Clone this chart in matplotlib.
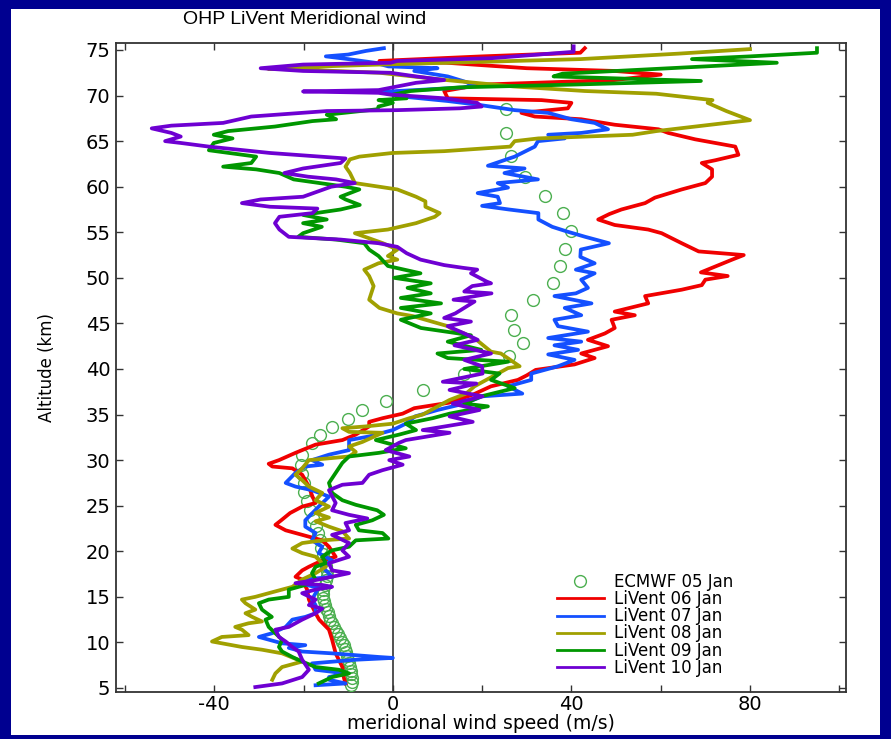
import matplotlib
matplotlib.use("Agg")
import matplotlib.pyplot as plt
from matplotlib.patches import Rectangle
from matplotlib.ticker import MultipleLocator

plt.rcParams["axes.unicode_minus"] = False

# ECMWF 05 Jan profile: (altitude km, meridional wind m/s)
ecmwf_05 = [(5.3, -9.3), (5.7, -9.2), (6.1, -9.2), (6.5, -9.3), (6.9, -9.4), (7.3, -9.6),
            (7.7, -9.8), (8.1, -10.0), (8.5, -10.2), (8.9, -10.4), (9.3, -10.7), (9.7, -11.0),
            (10.1, -11.4), (10.5, -11.8), (10.9, -12.3), (11.3, -12.8), (11.7, -13.2),
            (12.1, -13.6), (12.5, -14.0), (12.9, -14.3), (13.3, -14.6), (13.7, -14.9),
            (14.1, -15.2), (14.5, -15.4), (14.9, -15.6), (15.3, -15.7), (15.8, -15.6),
            (16.3, -15.3), (16.8, -15.0), (17.3, -14.8), (17.8, -14.8), (18.4, -15.0),
            (19.0, -15.3), (19.7, -15.7), (20.4, -16.0), (21.2, -16.4), (22.0, -16.8),
            (22.8, -17.3), (23.6, -17.9), (24.5, -18.6), (25.5, -19.3), (26.5, -19.8),
            (27.5, -20.0), (28.5, -20.3), (29.5, -20.5), (30.6, -20.3), (31.9, -18.0),
            (32.8, -16.2), (33.6, -13.6), (34.5, -10.0), (35.5, -6.8), (36.5, -1.5),
            (37.7, 6.7), (39.5, 16.0), (41.4, 26.1), (42.8, 29.1), (44.3, 27.1), (45.9, 26.5),
            (47.6, 31.5), (49.4, 35.9), (51.3, 37.4), (53.2, 38.5), (55.1, 40.0), (57.1, 38.2),
            (59.0, 34.0), (61.1, 29.5), (63.4, 26.5), (65.9, 25.4), (68.5, 25.4)]

livent_06 = [(5.5, -10.6), (6.2, -11.0), (7.3, -11.3), (8.8, -12.8), (10.3, -13.6), (11.4, -14.3),
             (12.5, -16.5), (13.2, -17.3), (14.7, -18.8), (15.8, -19.2), (16.9, -20.3), (17.2, -21.8),
             (17.9, -20.3), (18.3, -18.8), (19.0, -15.8), (19.4, -12.8), (20.5, -14.3), (21.2, -15.8),
             (22.3, -24.0), (22.9, -26.3), (23.4, -25.0), (24.2, -23.0), (24.9, -20.3), (25.3, -17.3),
             (26.0, -18.0), (27.1, -18.8), (28.4, -20.3), (29.1, -22.5), (29.3, -27.0), (29.6, -27.8),
             (30.0, -25.5), (30.8, -21.8), (31.7, -17.3), (32.2, -11.3), (32.8, -8.3), (33.7, -5.3),
             (34.2, -5.3), (34.6, -2.3), (35.1, 2.2), (35.7, 4.8), (36.3, 12.6), (37.2, 18.0),
             (38.1, 22.0), (38.8, 28.0), (39.3, 30.0), (39.9, 32.0), (40.5, 40.7), (41.2, 45.2),
             (41.7, 42.2), (42.5, 48.2), (43.2, 43.7), (43.9, 47.5), (44.5, 49.7), (45.4, 49.0),
             (45.9, 54.2), (46.3, 49.7), (47.2, 57.2), (48.0, 56.5), (48.7, 64.7), (49.2, 69.2),
             (49.8, 70.0), (50.2, 75.0), (50.6, 69.0), (51.2, 72.0), (52.0, 76.0), (52.5, 78.6),
             (52.9, 68.5), (53.8, 64.7), (54.9, 60.2), (55.3, 57.2), (55.8, 49.7), (56.4, 46.0),
             (57.0, 48.5), (57.5, 51.2), (58.2, 56.5), (58.8, 58.7), (59.7, 64.7), (60.4, 70.0),
             (61.1, 71.5), (61.9, 71.5), (62.6, 69.2), (62.9, 72.2), (63.5, 77.4), (64.4, 76.7),
             (65.2, 67.7), (65.9, 61.7), (66.3, 59.5), (66.8, 49.7), (67.4, 42.2), (67.7, 31.8),
             (68.1, 28.8), (68.6, 39.2), (69.2, 40.0), (69.5, 33.3), (69.7, 12.3), (70.5, 11.5),
             (71.2, 19.8), (71.7, 49.7), (72.3, 60.0), (72.7, 49.7), (73.0, 30.0), (73.6, 12.0),
             (73.8, -3.0), (74.3, 20.0), (74.7, 42.0), (75.2, 43.0)]

livent_07 = [(5.3, -17.3), (5.5, -10.6), (5.9, -14.3), (6.2, -14.3), (6.6, -10.6), (7.0, -17.3),
             (7.7, -18.1), (8.1, -8.3), (8.3, 0.0), (8.4, -3.1), (8.8, -13.6), (9.0, -20.3),
             (9.4, -23.3), (9.7, -19.6), (9.9, -24.8), (10.6, -30.0), (11.0, -27.1), (11.7, -24.0),
             (12.5, -22.5), (12.8, -19.6), (13.2, -17.3), (14.1, -17.3), (14.7, -18.1), (15.4, -17.3),
             (16.0, -16.6), (16.4, -20.3), (16.9, -19.6), (17.2, -13.6), (18.3, -15.8), (19.0, -13.6),
             (19.8, -16.6), (20.5, -15.8), (21.2, -18.1), (22.0, -17.3), (22.7, -19.6), (23.4, -19.6),
             (24.2, -18.0), (24.9, -16.6), (26.0, -14.3), (26.7, -18.1), (27.1, -21.8), (27.5, -24.0),
             (28.6, -21.8), (29.3, -19.6), (29.5, -15.8), (30.0, -18.1), (30.6, -14.3), (31.1, -9.8),
             (32.2, -9.8), (32.6, -5.3), (33.3, 0.0), (34.0, 2.9), (34.8, 5.0), (35.5, 10.0),
             (36.2, 16.0), (37.0, 20.0), (37.3, 29.0), (38.1, 25.8), (38.8, 31.0), (39.5, 31.0),
             (40.3, 37.0), (41.0, 40.7), (41.6, 34.8), (42.1, 41.5), (42.6, 36.2), (43.0, 42.2),
             (43.4, 34.8), (44.1, 43.7), (44.7, 37.0), (45.4, 36.2), (45.9, 42.2), (46.7, 38.5),
             (47.2, 44.5), (48.0, 36.2), (48.3, 41.0), (48.9, 43.7), (49.8, 42.2), (50.5, 45.2),
             (50.9, 41.0), (51.6, 45.2), (52.3, 42.0), (53.1, 42.1), (53.8, 48.4), (54.5, 43.1),
             (55.1, 38.9), (55.6, 35.7), (56.4, 32.6), (57.1, 32.6), (57.5, 26.0), (57.9, 20.0),
             (58.2, 24.0), (58.9, 23.5), (59.3, 19.0), (59.9, 25.8), (60.4, 23.5), (60.8, 32.5),
             (61.5, 25.0), (62.0, 29.5), (62.3, 21.3), (63.3, 27.3), (64.4, 31.8), (65.0, 32.5),
             (65.3, 38.5), (65.7, 34.8), (65.9, 42.2), (66.3, 48.2), (67.0, 45.2), (67.4, 40.0),
             (68.1, 34.8), (68.4, 27.3), (69.0, 19.0), (69.4, 12.3), (69.9, 2.0), (70.4, -3.0),
             (70.6, 5.0), (70.9, 16.0), (71.2, 18.3), (72.1, 12.3), (72.7, 4.8), (73.0, 10.0),
             (73.2, -1.0), (73.6, -4.0), (74.0, -10.0), (74.3, -15.0), (74.5, -10.0), (74.9, -6.0),
             (75.2, -2.0)]

livent_08 = [(5.9, -27.0), (6.6, -26.3), (7.3, -24.8), (7.7, -21.8), (7.9, -20.3), (8.8, -24.8),
             (9.2, -29.3), (9.5, -33.8), (10.1, -40.5), (10.6, -38.3), (10.8, -32.3), (11.4, -33.8),
             (11.7, -35.3), (12.1, -32.3), (12.3, -29.3), (12.8, -31.5), (13.2, -33.0), (13.6, -30.8),
             (14.3, -33.0), (14.7, -33.8), (15.0, -30.8), (15.6, -26.3), (16.1, -22.5), (16.9, -20.3),
             (17.6, -17.3), (18.3, -15.0), (19.4, -17.3), (19.8, -20.3), (20.3, -22.5), (20.9, -20.3),
             (21.2, -15.8), (21.4, -9.8), (22.2, -11.3), (22.7, -14.3), (23.3, -17.3), (23.7, -14.3),
             (24.2, -17.3), (24.9, -14.3), (25.6, -17.3), (26.4, -15.8), (27.1, -18.8), (27.8, -20.3),
             (28.4, -21.8), (29.1, -20.3), (30.0, -18.8), (30.4, -9.8), (30.9, -8.3), (31.5, -9.8),
             (32.0, -6.8), (33.0, -2.3), (33.1, -9.8), (33.5, -11.3), (33.7, -6.1), (34.0, 0.0),
             (34.6, 3.7), (35.0, 6.7), (36.6, 12.7), (37.3, 16.4), (38.1, 18.3), (40.1, 25.8),
             (40.3, 28.4), (41.7, 24.2), (41.9, 22.0), (43.1, 19.0), (43.9, 16.0), (44.3, 13.6),
             (44.7, 12.3), (45.8, 4.5), (46.1, 1.0), (46.7, -3.0), (47.6, -5.3), (49.1, -4.3),
             (50.2, -5.3), (50.9, -6.4), (51.6, -3.2), (52.0, 1.0), (52.4, -1.1), (53.1, 1.0),
             (53.8, -2.2), (54.9, -8.5), (55.3, -1.1), (56.0, 5.2), (56.7, 9.4), (57.1, 10.5),
             (57.8, 7.3), (58.4, 7.3), (58.9, 5.2), (59.7, 1.0), (60.4, -8.5), (61.5, -9.6),
             (62.2, -10.6), (63.0, -9.6), (63.3, -7.5), (63.7, -0.1), (63.9, 11.5), (64.4, 26.3),
             (65.0, 27.3), (65.3, 32.6), (65.7, 53.7), (66.1, 59.0), (67.0, 74.7), (67.3, 80.0),
             (68.3, 74.7), (69.2, 70.5), (69.5, 71.6), (70.2, 59.0), (70.5, 43.0), (71.0, 27.0),
             (71.7, 12.0), (72.5, -3.0), (72.8, -18.0), (72.95, -28.0), (73.1, -22.0), (73.4, -3.0),
             (73.7, 20.0), (74.0, 42.0), (74.6, 64.0), (75.1, 80.0)]

livent_09 = [(5.5, -16.6), (6.2, -13.6), (6.6, -9.8), (7.0, -12.1), (7.3, -17.3), (7.9, -20.3),
             (8.4, -22.5), (9.0, -24.8), (9.5, -25.5), (10.3, -24.8), (11.0, -26.3), (11.7, -27.8),
             (12.5, -28.5), (12.8, -27.1), (13.6, -29.3), (14.3, -30.0), (14.7, -27.8), (15.0, -23.3),
             (15.8, -23.3), (16.3, -19.6), (16.9, -17.3), (17.6, -18.1), (18.3, -17.3), (18.7, -15.0),
             (19.4, -15.8), (20.1, -13.6), (20.5, -9.8), (21.2, -8.3), (21.4, -1.0), (22.0, -2.3),
             (22.3, -7.6), (22.9, -8.3), (23.4, -4.6), (24.0, -2.0), (24.5, -3.5), (25.1, -8.3),
             (25.6, -11.3), (26.4, -13.6), (27.5, -14.3), (28.6, -12.8), (29.7, -11.3), (30.4, -9.8),
             (30.8, -3.1), (31.3, 2.9), (31.7, 0.0), (32.2, -3.8), (32.8, 1.4), (33.3, 5.2),
             (34.0, 2.9), (34.6, 8.9), (35.1, 12.7), (35.9, 21.3), (36.2, 16.0), (37.0, 19.8),
             (37.9, 27.3), (38.8, 22.0), (39.5, 23.9), (40.0, 16.0), (40.8, 25.8), (41.2, 12.3),
             (41.7, 10.0), (42.1, 19.8), (43.0, 12.3), (43.7, 17.5), (44.5, 6.3), (45.4, 1.8),
             (46.1, 8.5), (46.7, 1.8), (47.2, 10.8), (47.8, 1.8), (48.3, 8.5), (48.9, 3.3),
             (49.4, 8.5), (50.0, 0.3), (50.5, 6.2), (51.3, -1.1), (52.4, -3.2), (53.1, -5.3),
             (53.8, -6.4), (54.2, -12.7), (54.5, -21.2), (54.9, -20.1), (55.6, -15.9), (56.0, -20.1),
             (56.4, -14.8), (56.9, -20.1), (57.5, -11.7), (58.0, -7.4), (58.6, -10.6), (58.9, -11.7),
             (59.7, -7.5), (60.0, -10.6), (60.8, -22.2), (61.5, -25.4), (61.9, -30.6), (62.2, -38.0),
             (62.6, -31.7), (63.3, -30.6), (64.0, -41.2), (64.8, -40.1), (65.3, -35.9), (65.7, -40.1),
             (66.1, -36.9), (66.6, -26.4), (67.2, -18.0), (67.4, -12.7), (67.9, -14.8), (68.5, -3.4),
             (68.8, -3.2), (69.2, 0.0), (69.5, -3.2), (69.7, 3.1), (70.1, 0.0), (70.5, 4.0),
             (70.9, 15.0), (71.2, 40.0), (71.6, 69.0), (72.1, 36.0), (72.4, 38.0), (73.6, 86.0),
             (74.0, 67.0), (74.3, 80.0), (74.7, 95.0), (75.2, 95.0)]

livent_10 = [(5.1, -30.8), (5.5, -24.8), (6.2, -20.3), (7.0, -18.8), (8.1, -20.3), (9.0, -21.1),
             (9.5, -22.5), (10.1, -24.0), (10.6, -25.5), (11.4, -26.3), (11.7, -23.3), (12.5, -20.3),
             (13.2, -17.3), (13.7, -15.8), (14.1, -18.8), (14.7, -17.3), (15.4, -20.3), (15.8, -17.3),
             (16.1, -13.6), (16.3, -15.8), (16.5, -21.8), (16.9, -16.6), (17.6, -9.8), (17.9, -13.6),
             (18.7, -14.3), (19.4, -9.8), (20.1, -11.3), (20.9, -9.8), (21.8, -13.6), (22.3, -9.8),
             (23.1, -10.6), (23.6, -5.7), (24.0, -9.8), (24.5, -13.6), (25.3, -12.8), (26.7, -14.3),
             (27.3, -11.3), (27.5, -6.8), (28.4, -5.3), (28.9, -2.3), (29.5, 2.2), (30.0, -0.8),
             (30.4, 3.7), (31.1, -1.6), (31.9, 1.4), (32.2, 2.9), (33.0, 12.7), (33.3, 6.7),
             (34.2, 17.9), (34.8, 12.7), (35.5, 19.4), (36.2, 13.4), (37.0, 20.1), (37.7, 12.7),
             (38.4, 18.7), (38.6, 11.2), (39.5, 20.1), (40.3, 20.0), (41.0, 16.0), (41.7, 22.0),
             (42.6, 13.8), (43.2, 19.0), (43.9, 16.0), (44.7, 12.3), (45.2, 17.5), (45.6, 11.5),
             (46.1, 14.0), (47.4, 18.3), (47.6, 13.6), (48.3, 22.1), (48.5, 16.0), (49.1, 17.8),
             (49.4, 22.0), (49.6, 21.0), (50.5, 17.5), (50.9, 18.9), (51.1, 15.7), (51.4, 11.5),
             (52.0, 6.2), (52.7, 3.1), (53.4, 1.0), (53.8, -3.2), (54.2, -11.7), (54.5, -23.3),
             (55.3, -25.4), (56.0, -26.4), (56.7, -25.4), (57.1, -18.0), (57.6, -16.9), (57.8, -27.5),
             (58.2, -33.8), (58.6, -29.6), (58.9, -20.1), (60.0, -13.8), (60.4, -8.5), (60.8, -12.7),
             (61.1, -19.0), (61.5, -24.3), (62.0, -20.1), (62.6, -11.7), (63.1, -10.6), (63.7, -27.5),
             (64.4, -41.2), (64.8, -47.5), (65.0, -51.0), (65.5, -47.5), (65.9, -49.6), (66.4, -54.0),
             (66.7, -49.6), (67.0, -38.0), (67.7, -31.7), (68.3, -14.8), (68.4, 1.0), (68.6, 15.0),
             (68.8, 19.9), (69.2, 18.9), (69.7, 11.5), (70.1, -0.5), (70.3, -3.2), (70.45, -20.1),
             (70.6, -3.2), (71.4, 5.2), (71.7, 11.5), (72.1, 5.2), (72.5, -0.5), (72.7, -20.1),
             (73.0, -29.6), (73.4, -20.1), (73.6, -0.5), (73.8, 1.0), (74.1, 22.1), (74.8, 40.5),
             (75.4, 40.5)]

series = [
    ("LiVent 06 Jan", livent_06, "#f00000"),
    ("LiVent 07 Jan", livent_07, "#1450ff"),
    ("LiVent 08 Jan", livent_08, "#a0a000"),
    ("LiVent 09 Jan", livent_09, "#009600"),
    ("LiVent 10 Jan", livent_10, "#6e00d2"),
]

W, H = 891, 739
fig = plt.figure(figsize=(W / 100, H / 100), dpi=100, facecolor="#000090")
# white slide panel inside the navy border
fig.patches.append(Rectangle((11 / W, 1 - 735 / H), 869 / W, 726 / H, transform=fig.transFigure,
                             facecolor="white", edgecolor="none", zorder=-10))

ax = fig.add_axes([116 / W, 1 - 692 / H, 730 / W, 649.3 / H])
ax.set_zorder(1)

alt = [p[0] for p in ecmwf_05]
wind = [p[1] for p in ecmwf_05]
ax.plot(wind, alt, "o", mfc="none", mec="#4caf50", mew=1.0, ms=8.5, label="ECMWF 05 Jan", zorder=3)

for name, prof, col in series:
    alt = [p[0] for p in prof]
    wind = [p[1] for p in prof]
    ax.plot(wind, alt, color=col, lw=2.7, label=name, zorder=4, solid_joinstyle="round")

ax.axvline(0, color="#333333", lw=1.2, zorder=2)

ax.set_xlim(-62, 101.5)
ax.set_ylim(4.56, 75.8)
ax.xaxis.set_major_locator(MultipleLocator(40))
ax.xaxis.set_minor_locator(MultipleLocator(20))
ax.yaxis.set_major_locator(MultipleLocator(5))
ax.tick_params(which="both", direction="in", top=True, right=True, length=5, width=1,
               color="#333333", labelsize=14, pad=4)
ax.tick_params(axis="x", which="both", pad=2)
for s in ax.spines.values():
    s.set_color("#333333")
    s.set_linewidth(1.3)

ax.set_xlabel("meridional wind speed (m/s)", fontsize=13.5, labelpad=0)
ax.set_ylabel("Altitude (km)", fontsize=12, labelpad=21)

fig.text(183 / W, 1 - 20 / H, "OHP LiVent Meridional wind", fontsize=14,
         family="Liberation Sans", ha="left", va="center")

leg = ax.legend(loc="upper left", bbox_to_anchor=(557 / W, 1 - 573 / H), bbox_transform=fig.transFigure,
                frameon=False, fontsize=12, labelspacing=-0.05, handlelength=2.8, handletextpad=0.6,
                borderpad=0, borderaxespad=0, numpoints=1)
for h in leg.get_lines():
    h.set_linewidth(2.0)

fig.savefig("out.png", dpi=100, facecolor=fig.get_facecolor())
